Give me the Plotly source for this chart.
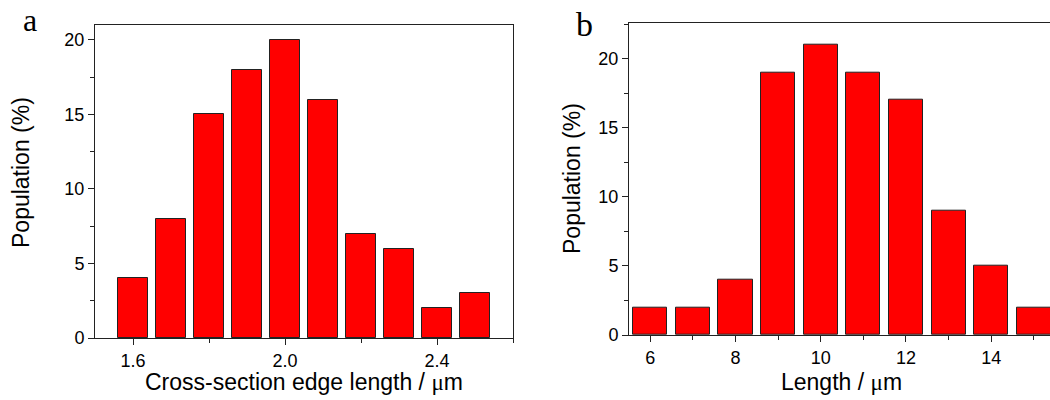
import plotly.graph_objects as go

# Panel a: cross-section edge length
edge_x = [1.6, 1.7, 1.8, 1.9, 2.0, 2.1, 2.2, 2.3, 2.4, 2.5]
edge_pop = [4, 8, 15, 18, 20, 16, 7, 6, 2, 3]

# Panel b: length
len_x = [6, 7, 8, 9, 10, 11, 12, 13, 14, 15]
len_pop = [2, 2, 4, 19, 21, 19, 17, 9, 5, 2]

SANS = "Liberation Sans, Arial, sans-serif"
SERIF = "Liberation Serif, Times New Roman, serif"
MU = '<span style="font-family:Liberation Serif">μ</span>'

# body margin is removed (post_script below), so the figure fills the 1050x400 window
W, H = 1050, 400


def px(x):
    return x / W


def py(y):
    return 1 - y / H


fig = go.Figure()
fig.add_trace(go.Bar(x=edge_x, y=edge_pop, width=0.08,
                     marker=dict(color="#ff0000", line=dict(color="#222222", width=1)),
                     xaxis="x", yaxis="y", showlegend=False))
fig.add_trace(go.Bar(x=len_x, y=len_pop, width=0.8,
                     marker=dict(color="#ff0000", line=dict(color="#222222", width=1)),
                     xaxis="x2", yaxis="y2", showlegend=False))

axis_common = dict(showline=True, linecolor="#222222", linewidth=1, showgrid=False,
                   zeroline=False, ticks="outside", ticklen=6, tickwidth=1, automargin=False,
                   tickcolor="#222222", tickfont=dict(family=SANS, size=18, color="#000000"))
minor = dict(ticks="outside", ticklen=4, tickwidth=1, tickcolor="#222222", showgrid=False)
title_font = dict(family=SANS, size=23, color="#000000")

fig.update_layout(
    width=W, height=H,
    margin=dict(l=0, r=0, t=0, b=0),
    paper_bgcolor="white", plot_bgcolor="white",
    bargap=0,
    xaxis=dict(domain=[px(95), px(513)], range=[1.5, 2.6], anchor="y",
               tick0=1.6, dtick=0.4, tickformat=".1f", mirror=True,
               minor=dict(dtick=0.2, tick0=1.6, **minor),
               **axis_common),
    yaxis=dict(domain=[py(338), py(25)], range=[0, 21], anchor="x",
               tick0=0, dtick=5, mirror=True,
               minor=dict(dtick=2.5, tick0=0, **minor),
               **axis_common),
    xaxis2=dict(domain=[px(629), 1.0], range=[5.5, 15.38], anchor="y2",
                tick0=6, dtick=2, mirror=True,
                minor=dict(dtick=1, tick0=6, **minor),
                **axis_common),
    yaxis2=dict(domain=[py(335), py(22.7)], range=[0, 22.6], anchor="x2",
                tick0=0, dtick=5, mirror=False,
                minor=dict(dtick=2.5, tick0=0, **minor),
                **axis_common),
    annotations=[
        dict(text="a", x=px(30), y=1.0, xref="paper", yref="paper",
             showarrow=False, font=dict(family=SERIF, size=32, color="#000000"),
             xanchor="center", yanchor="top"),
        dict(text="b", x=px(584), y=py(4), xref="paper", yref="paper",
             showarrow=False, font=dict(family=SERIF, size=34, color="#000000"),
             xanchor="center", yanchor="top"),
        dict(text="Cross-section edge length / " + MU + "m", x=px(303.5), y=py(382),
             xref="paper", yref="paper", showarrow=False, font=title_font,
             xanchor="center", yanchor="middle"),
        dict(text="Length / " + MU + "m", x=px(841), y=py(382),
             xref="paper", yref="paper", showarrow=False, font=title_font,
             xanchor="center", yanchor="middle"),
        dict(text="Population (%)", x=px(21), y=py(173), textangle=-90,
             xref="paper", yref="paper", showarrow=False, font=title_font,
             xanchor="center", yanchor="middle"),
        dict(text="Population (%)", x=px(572), y=py(179), textangle=-90,
             xref="paper", yref="paper", showarrow=False, font=title_font,
             xanchor="center", yanchor="middle"),
    ],
)

fig.write_html("out.html", config={"displayModeBar": False},
               post_script="document.body.style.margin='0';")
